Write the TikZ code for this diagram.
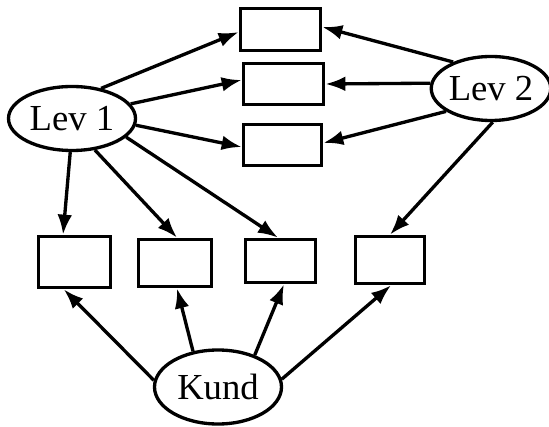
\documentclass[tikz,border=0pt]{standalone}
\usepackage{fontspec}
\setmainfont{Liberation Serif}
\usetikzlibrary{shapes.geometric,arrows.meta}
\begin{document}
\begin{tikzpicture}[x=0.75pt,y=-0.75pt,
  box/.style={draw,line width=2.75pt,rectangle,inner sep=0pt},
  oval/.style={draw,line width=2.5pt,ellipse,inner sep=0pt,font=\fontsize{27.5}{32}\selectfont},
  arr/.style={line width=2.5pt,-{Latex[length=15pt,width=11pt]}}]
\useasboundingbox (0,0) rectangle (549,427);
% top boxes
\node[box,minimum width=60pt,minimum height=31.5pt] (t1) at (280.5,29.5) {};
\node[box,minimum width=60pt,minimum height=30.75pt] (t2) at (283.5,84) {};
\node[box,minimum width=58.5pt,minimum height=30.75pt] (t3) at (282.5,145) {};
% bottom boxes
\node[box,minimum width=54pt,minimum height=38.25pt] (b1) at (74.5,262) {};
\node[box,minimum width=54.75pt,minimum height=35.25pt] (b2) at (175,263) {};
\node[box,minimum width=52.5pt,minimum height=32.25pt] (b3) at (280.5,261) {};
\node[box,minimum width=51.75pt,minimum height=35.25pt] (b4) at (390,260) {};
% ellipses
\node[oval,minimum width=95.25pt,minimum height=48pt] (lev1) at (72,118.5) {Lev 1};
\node[oval,minimum width=83.25pt,minimum height=48pt] (lev2) at (491,88.5) {Lev 2};
\node[oval,minimum width=95.25pt,minimum height=55.5pt] (kund) at (218,387) {Kund};
% Lev 1 arrows
\draw[arr] (lev1.46) -- ([yshift=-1.9pt]t1.west);
\draw[arr] (lev1.14) -- ([yshift=3pt]t2.west);
\draw[arr] (lev1.-6) -- ([yshift=-1.5pt]t3.west);
\draw[arr] (lev1.-93) -- ([xshift=-8.6pt]b1.north);
\draw[arr] (lev1.-54) -- ([xshift=1.5pt]b2.north);
\draw[arr] (lev1.-19) -- ([xshift=-1.9pt]b3.north);
% Lev 2 arrows
\draw[arr] (lev2.145) -- ([yshift=1.9pt]t1.east);
\draw[arr] (lev2.175) -- (t2.east);
\draw[arr] (lev2.207) -- ([yshift=1.5pt]t3.east);
\draw[arr] (lev2.273) -- (b4.north);
% Kund arrows
\draw[arr] (kund.174) -- ([xshift=-8pt]b1.south);
\draw[arr] (kund.125) -- ([xshift=1.5pt]b2.south);
\draw[arr] (kund.41) -- ([xshift=2.6pt]b3.south);
\draw[arr] (kund.7) -- ([xshift=0.75pt]b4.south);
\end{tikzpicture}
\end{document}
